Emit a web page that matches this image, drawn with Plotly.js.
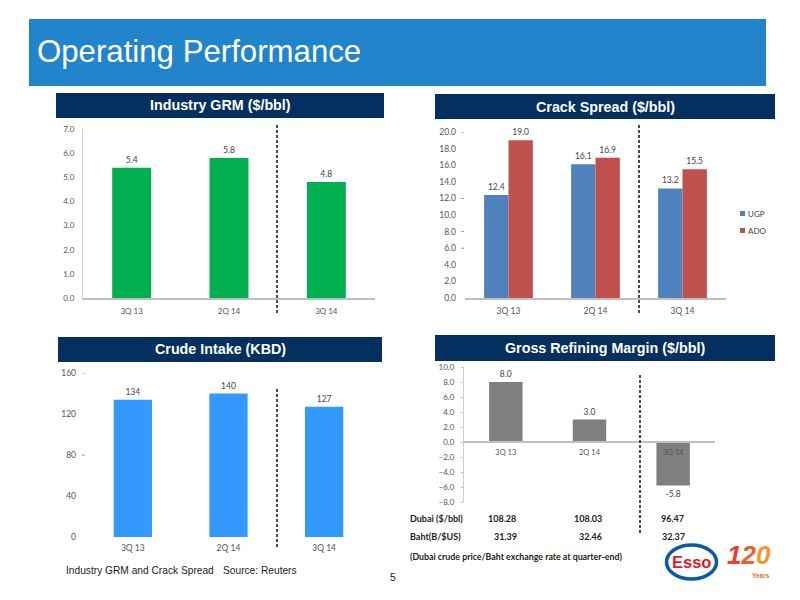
<!DOCTYPE html>
<html>
<head>
<meta charset="utf-8">
<script src="https://cdn.plot.ly/plotly-3.0.1.min.js"></script>
<style>html,body{margin:0;padding:0;background:#fff}#c{width:800px;height:600px}</style>
</head>
<body>
<div id="c"></div>
<script>
const quarters = ['3Q 13', '2Q 14', '3Q 14'];
const industryGrm = [5.4, 5.8, 4.8];
const crackUgp = [12.4, 16.1, 13.2];
const crackAdo = [19.0, 16.9, 15.5];
const crudeIntake = [134, 140, 127];
const grossMargin = [8.0, 3.0, -5.8];
const dubaiRow = ['108.28', '108.03', '96.47'];
const bahtRow = ['31.39', '32.46', '32.37'];
const crackTickDashes = [20, 12, 8, 6];
const crudeTickDashes = [160, 80];

const LBL = 'Lato, "Open Sans", sans-serif';
const ARIAL = '"Liberation Sans", Arial, sans-serif';
const txt = '#444444';
const px = x => x / 800;
const py = y => 1 - y / 600;

function barTrace(xa, ya, y, color, name, single) {
  const t = {
    type: 'bar', x: quarters, y: y, xaxis: xa, yaxis: ya, name: name,
    marker: {color: color}, text: y.map(v => ya === 'y3' ? String(v) : v.toFixed(1)),
    textposition: 'outside', cliponaxis: false, showlegend: false, hoverinfo: 'x+y',
    textfont: {family: LBL, size: 8.5, color: txt}
  };
  if (single) t.width = 0.4;
  return t;
}

const data = [
  barTrace('x', 'y', industryGrm, '#00b050', 'Industry GRM', true),
  barTrace('x2', 'y2', crackUgp, '#4f81bd', 'UGP', false),
  barTrace('x2', 'y2', crackAdo, '#c0504d', 'ADO', false),
  barTrace('x3', 'y3', crudeIntake, '#3399ff', 'Crude Intake', true),
  barTrace('x4', 'y4', grossMargin, '#7f7f7f', 'Gross Refining Margin', true)
];

function xAxis(l, r, anchor, standoff, size, extra) {
  return Object.assign({
    domain: [px(l), px(r)], anchor: anchor, type: 'category', showgrid: false, zeroline: false,
    showline: true, linecolor: '#bfbfbf', linewidth: 2, ticks: '',
    tickfont: {family: LBL, size: size, color: '#555'}, ticklabelstandoff: standoff
  }, extra || {});
}
function yAxis(t, b, anchor, range, dtick, fmt, line, size, standoff, extra) {
  return Object.assign({
    domain: [py(b), py(t)], anchor: anchor, range: range, dtick: dtick, tickformat: fmt,
    tick0: 0, showgrid: false, zeroline: false, showline: line, linecolor: '#cfcfcf', linewidth: 1,
    ticks: '', tickfont: {family: LBL, size: size, color: '#555'}, ticklabelstandoff: standoff
  }, extra || {});
}

const navy = '#03305f';
function rect(x0, y0, x1, y1, color) {
  return {type: 'rect', xref: 'paper', yref: 'paper', layer: 'below', x0: px(x0), x1: px(x1), y0: py(y0), y1: py(y1),
    fillcolor: color, line: {width: 0}};
}
function dashed(x, y0, y1) {
  return {type: 'line', xref: 'paper', yref: 'paper', x0: px(x), x1: px(x), y0: py(y0), y1: py(y1),
    line: {color: '#111', width: 1.5, dash: '3px,2px'}};
}
function tickDash(yref, v, x0, x1) {
  return {type: 'line', xref: 'paper', yref: yref, x0: px(x0), x1: px(x1), y0: v, y1: v,
    line: {color: '#999', width: 1}};
}
function note(text, x, y, opts) {
  opts = opts || {};
  return {text: text, xref: 'paper', yref: 'paper', x: px(x), y: py(y), showarrow: false,
    xanchor: opts.anchor || 'center', yanchor: 'middle',
    font: {family: opts.family || ARIAL, size: opts.size || 10, color: opts.color || txt}};
}

const shapes = [
  rect(29, 19, 766, 86, '#2285cc'),
  rect(56, 93, 384, 118, navy),
  rect(435, 94, 775, 119, navy),
  rect(58, 337, 382, 362, navy),
  rect(435, 335, 775, 361, navy),
  dashed(277, 125, 315),
  dashed(639, 125, 315),
  dashed(277, 389, 548),
  dashed(640, 375, 533),
  rect(740, 211, 745, 216, '#4f81bd'),
  rect(740, 228, 745, 233, '#c0504d'),
  {type: 'circle', xref: 'paper', yref: 'paper', x0: px(666.5), x1: px(716.5), y0: py(579), y1: py(545),
    fillcolor: '#fff', line: {color: '#0b5aa6', width: 3.5}}
].concat(crackTickDashes.map(v => tickDash('y2', v, 461, 464)), crudeTickDashes.map(v => tickDash('y3', v, 82, 85)));

const tableX = [502, 588, 672];
const bahtX = [505, 590, 673];
const annotations = [
  note('<b>Industry GRM ($/bbl)</b>', 220, 105.5, {size: 14.3, color: '#fff'}),
  note('<b>Crack Spread ($/bbl)</b>', 605, 106.5, {size: 14.3, color: '#fff'}),
  note('<b>Crude Intake (KBD)</b>', 220, 348.5, {size: 14.3, color: '#fff'}),
  note('<b>Gross Refining Margin ($/bbl)</b>', 605, 347.5, {size: 14.3, color: '#fff'}),
  note('UGP', 746, 213.5, {anchor: 'left', family: LBL, size: 8}),
  note('ADO', 746, 230.5, {anchor: 'left', family: LBL, size: 8}),
  note('Industry GRM and Crack Spread', 64, 570, {anchor: 'left', size: 10.2, color: '#222'}),
  note('Source: Reuters', 221, 570, {anchor: 'left', size: 10.2, color: '#222'}),
  note('5', 393, 577, {size: 10.5, color: '#222'}),
  note('<b>Dubai ($/bbl)</b>', 408, 518, {anchor: 'left', family: LBL, size: 9, color: '#222'}),
  note('<b>Baht(B/$US)</b>', 408, 536, {anchor: 'left', family: LBL, size: 9, color: '#222'}),
  note('<b>(Dubai crude price/Baht exchange rate at quarter-end)</b>', 408, 556, {anchor: 'left', family: LBL, size: 8.8, color: '#222'}),
  note('<b>Esso</b>', 691.5, 562, {size: 16.5, color: '#e0182d'}),
  note('<b><i><span style="color:#e8402a">1</span><span style="color:#ee5f2a">2</span><span style="color:#f3952c">0</span></i></b>', 749, 555, {size: 26}),
  note('<b>Years</b>', 761, 575, {size: 6.5, color: '#e8702a'})
];
dubaiRow.forEach((v, i) => annotations.push(note('<b>' + v + '</b>', tableX[i], 518, {family: LBL, size: 9, color: '#222'})));
bahtRow.forEach((v, i) => annotations.push(note('<b>' + v + '</b>', bahtX[i], 536, {family: LBL, size: 9, color: '#222'})));

const layout = {
  width: 800, height: 600, margin: {l: 0, r: 0, t: 0, b: 0, pad: 0, autoexpand: false},
  paper_bgcolor: '#fff', plot_bgcolor: 'rgba(0,0,0,0)', showlegend: false, bargap: 0.44,
  title: {text: 'Operating Performance', x: px(37), xanchor: 'left', y: py(51), yanchor: 'middle',
    font: {family: ARIAL, size: 31.2, color: '#fff'}},
  xaxis: xAxis(83, 375, 'y', 4, 8),
  yaxis: yAxis(129, 298, 'x', [0, 7], 1, '.1f', true, 8, 6),
  xaxis2: xAxis(465, 726, 'y2', 4, 8.5),
  yaxis2: yAxis(132, 298, 'x2', [0, 20], 2, '.1f', false, 8.5, 8),
  xaxis3: xAxis(85, 372, 'y3', 4, 8.5, {showline: false}),
  yaxis3: yAxis(373, 537, 'x3', [0, 160], 40, 'd', false, 8.5, 8),
  xaxis4: xAxis(464, 715, 'free', 3, 7.5, {position: py(442)}),
  yaxis4: yAxis(367, 502, 'x4', [-8, 10], 2, '.1f', true, 8, 5, {ticks: 'outside', ticklen: 2, tickcolor: '#bbb'}),
  shapes: shapes,
  annotations: annotations
};
Plotly.newPlot('c', data, layout, {displayModeBar: false, staticPlot: true});
</script>
</body>
</html>
